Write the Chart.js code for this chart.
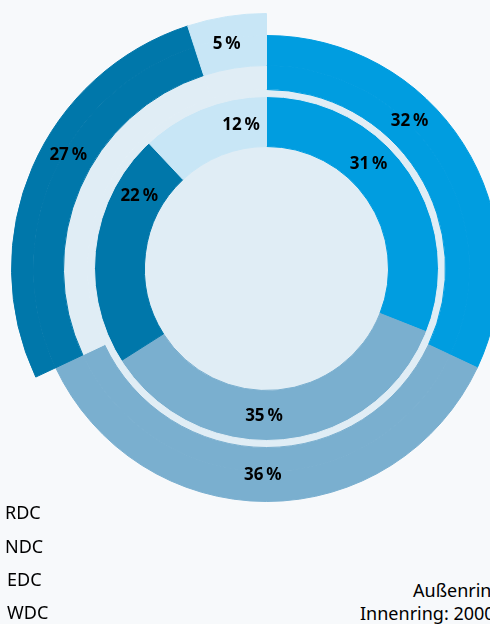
<!DOCTYPE html>
<html lang="de">
<head>
<meta charset="utf-8">
<script src="https://cdn.jsdelivr.net/npm/chart.js@4.4.1/dist/chart.umd.min.js"></script>
<style>
    html, body { margin: 0; padding: 0; background: #f7f9fb; }
    #wrap { position: relative; width: 490px; height: 624px; overflow: hidden; font-family: "Noto Sans", sans-serif; color: #000; }
    #ring { position: absolute; left: 11px; top: 13px; }
    .legend-item { position: absolute; left: 5px; font-size: 18px; line-height: 20px; }
    .note { position: absolute; font-size: 18px; line-height: 20px; white-space: nowrap; }
</style>
</head>
<body>
<div id="wrap">
    <canvas id="ring" width="511" height="511"></canvas>
    <div class="legend-item" style="top:502px">RDC</div>
    <div class="legend-item" style="top:536px">NDC</div>
    <div class="legend-item" style="left:7px;top:569px">EDC</div>
    <div class="legend-item" style="left:7px;top:602px">WDC</div>
    <div class="note" style="left:413px;top:580px">Außenring: 2010</div>
    <div class="note" style="left:360px;top:603px">Innenring: 2000</div>
</div>
<script>
// Werte
const categories = ["RDC", "NDC", "EDC", "WDC"];
const outerValues = [32, 36, 27, 5];   // Außenring
const innerValues = [31, 35, 22, 12];  // Innenring

// Farben
const segColors = ["#009de0", "#7aafcf", "#0077aa", "#c8e6f6"];
const paleBg = "#e0edf5";
const none = "rgba(0,0,0,0)";

// Außenring ist in drei Bänder geteilt, damit EDC/WDC weiter außen liegen
const outerTop = [none, none, segColors[2], segColors[3]];
const outerMid = segColors.slice();
const outerLow = [segColors[0], segColors[1], paleBg, paleBg];

// Rand in Füllfarbe, damit zwischen den Bändern keine Haarlinien bleiben
function ds(data, colors, weight, group, shown) {
    return { data: data, backgroundColor: colors, borderColor: colors, borderWidth: 1, weight: weight, group: group, shown: shown };
}

// Beschriftungen
const labelAngles = [44, 181, 300, 350];
const labelPlugin = {
    id: "ringLabels",
    afterDatasetsDraw(chart) {
        let ctx = chart.ctx;
        ctx.save();
        ctx.font = "bold 17px 'Noto Sans', sans-serif";
        ctx.fillStyle = "#000";
        ctx.textAlign = "center";
        ctx.textBaseline = "middle";
        ["outer", "inner"].forEach(group => {
            let values = group === "outer" ? outerValues : innerValues;
            values.forEach((v, i) => {
                let rMin = Infinity, rMax = 0, cx = 0, cy = 0;
                chart.data.datasets.forEach((d, di) => {
                    if (d.group !== group || !d.shown[i]) return;
                    let arc = chart.getDatasetMeta(di).data[i];
                    rMin = Math.min(rMin, arc.innerRadius);
                    rMax = Math.max(rMax, arc.outerRadius);
                    cx = arc.x; cy = arc.y;
                });
                let r = (rMin + rMax) / 2;
                let a = labelAngles[i] * Math.PI / 180;
                ctx.fillText(v + "\u202F%", cx + r * Math.sin(a), cy - r * Math.cos(a) + 1);
            });
        });
        ctx.restore();
    }
};

new Chart(document.getElementById("ring"), {
    type: "doughnut",
    data: {
        labels: categories,
        datasets: [
            ds(outerValues, outerTop, 22, "outer", [false, false, true, true]),
            ds(outerValues, outerMid, 30, "outer", [true, true, true, true]),
            ds(outerValues, outerLow, 24, "outer", [true, true, false, false]),
            ds([1], [paleBg], 7, "gap", [false]),
            ds(innerValues, segColors, 50, "inner", [true, true, true, true]),
            ds([1], [paleBg], 122, "core", [false])
        ]
    },
    options: {
        responsive: false,
        animation: false,
        events: [],
        cutout: 0,
        layout: { padding: 0 },
        plugins: { legend: { display: false }, tooltip: { enabled: false } }
    },
    plugins: [labelPlugin]
});
</script>
</body>
</html>
